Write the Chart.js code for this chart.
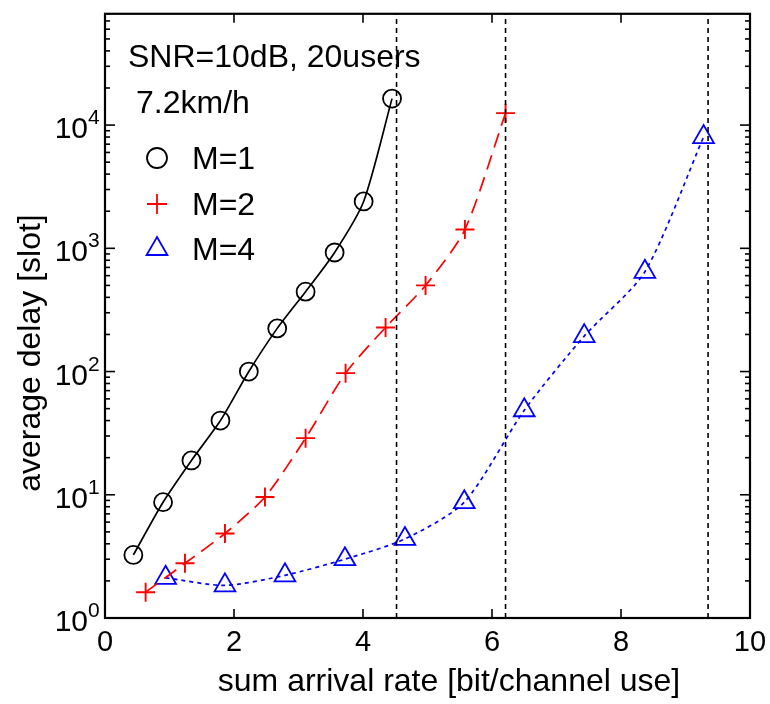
<!DOCTYPE html>
<html>
<head>
<meta charset="utf-8">
<script src="https://cdn.jsdelivr.net/npm/chart.js@4.4.1/dist/chart.umd.min.js"></script>
<style>
  html, body { margin: 0; padding: 0; background: #fff; }
  #wrap { width: 770px; height: 704px; }
</style>
</head>
<body>
<div id="wrap"><canvas id="c" width="770" height="704"></canvas></div>
<script>
// ---- data ----
const m1Rate  = [0.44, 0.90, 1.34, 1.79, 2.23, 2.67, 3.11, 3.56, 4.01, 4.45];
const m1Delay = [3.25, 8.7, 19, 40, 100, 224, 445, 925, 2400, 16400];

const m2Rate  = [0.63, 1.24, 1.86, 2.48, 3.11, 3.73, 4.35, 4.97, 5.58, 6.21];
const m2Delay = [1.62, 2.78, 4.85, 9.6, 28.8, 97, 228, 500, 1420, 12500];

const m4Rate  = [0.94, 1.86, 2.79, 3.72, 4.65, 5.57, 6.50, 7.43, 8.37, 9.28];
const m4Delay = [2.12, 1.84, 2.22, 3.0, 4.38, 8.7, 48.5, 194, 645, 8000];

const capacityRates = [4.52, 6.21, 9.35];

const xTicks = [0, 2, 4, 6, 8, 10];
const yDecades = [0, 1, 2, 3, 4];
const xMin = 0, xMax = 10, yMin = 1, yMax = 80000;

const seriesNames = ['M=1', 'M=2', 'M=4'];
const annotationLines = ['SNR=10dB, 20users', '7.2km/h'];
const xTitle = 'sum arrival rate [bit/channel use]';
const yTitle = 'average delay [slot]';

const FONT = '"Liberation Sans", Arial, Helvetica, sans-serif';

function pts(xs, ys) { return xs.map((x, i) => ({ x: x, y: ys[i] })); }

const datasets = [];
capacityRates.forEach(c => {
  datasets.push({
    data: [{ x: c, y: yMin }, { x: c, y: yMax }],
    borderColor: '#000', borderWidth: 1.6, borderDash: [5, 4],
    pointRadius: 0, showLine: true, fill: false
  });
});
datasets.push({
  label: seriesNames[0], data: pts(m1Rate, m1Delay),
  borderColor: '#000', borderWidth: 1.7, showLine: true, tension: 0.25,
  pointStyle: 'circle', pointRadius: 9, pointBorderWidth: 1.8,
  pointBorderColor: '#000', pointBackgroundColor: 'rgba(0,0,0,0)'
});
datasets.push({
  label: seriesNames[1], data: pts(m2Rate, m2Delay),
  borderColor: '#ff0000', borderWidth: 1.7, borderDash: [15, 8], showLine: true, tension: 0.25,
  pointStyle: 'cross', pointRadius: 9.5, pointBorderWidth: 1.9,
  pointBorderColor: '#ff0000', pointBackgroundColor: 'rgba(0,0,0,0)'
});
datasets.push({
  label: seriesNames[2], data: pts(m4Rate, m4Delay),
  borderColor: '#0000ff', borderWidth: 1.7, borderDash: [4, 4], showLine: true, tension: 0.25,
  pointStyle: 'triangle', pointRadius: 12, pointBorderWidth: 1.8,
  pointBorderColor: '#0000ff', pointBackgroundColor: 'rgba(0,0,0,0)'
});

function line(ctx, x1, y1, x2, y2) {
  ctx.beginPath(); ctx.moveTo(x1, y1); ctx.lineTo(x2, y2); ctx.stroke();
}

const decorPlugin = {
  id: 'decor',
  afterDraw(chart) {
    const ctx = chart.ctx, a = chart.chartArea;
    const xs = chart.scales.x, ys = chart.scales.y;
    ctx.save();
    ctx.setLineDash([]);
    ctx.strokeStyle = '#000';
    ctx.lineWidth = 2.2;
    ctx.strokeRect(a.left, a.top, a.right - a.left, a.bottom - a.top);

    // x ticks (inward, bottom & top)
    ctx.lineWidth = 1.6;
    xTicks.forEach(v => {
      const px = xs.getPixelForValue(v);
      line(ctx, px, a.bottom, px, a.bottom - 9);
      line(ctx, px, a.top, px, a.top + 9);
    });
    // y ticks (major + minor, left & right)
    yDecades.forEach(d => {
      for (let m = 1; m <= 9; m++) {
        const v = m * Math.pow(10, d);
        if (v > yMax) break;
        const py = ys.getPixelForValue(v);
        const L = m === 1 ? 10 : 5;
        line(ctx, a.left, py, a.left + L, py);
        line(ctx, a.right, py, a.right - L, py);
      }
    });

    ctx.fillStyle = '#000';
    // x tick labels
    ctx.font = '29px ' + FONT;
    ctx.textAlign = 'center';
    ctx.textBaseline = 'alphabetic';
    xTicks.forEach(v => {
      ctx.fillText(String(v), xs.getPixelForValue(v), a.bottom + 33);
    });
    // y tick labels 10^k
    yDecades.forEach(d => {
      const py = ys.getPixelForValue(Math.pow(10, d));
      ctx.font = '30px ' + FONT;
      ctx.textAlign = 'right';
      ctx.fillText('10', a.left - 17, py + 13);
      ctx.font = '21px ' + FONT;
      ctx.textAlign = 'left';
      ctx.fillText(String(d), a.left - 17, py - 1);
    });

    // axis titles
    ctx.font = '32px ' + FONT;
    ctx.textAlign = 'center';
    ctx.fillText(xTitle, 449, 691);
    ctx.save();
    ctx.translate(40, 353);
    ctx.rotate(-Math.PI / 2);
    ctx.fillText(yTitle, 0, 0);
    ctx.restore();

    // annotation text
    ctx.textAlign = 'left';
    ctx.fillText(annotationLines[0], 128, 67);
    ctx.fillText(annotationLines[1], 136, 113);

    // legend
    const lds = chart.data.datasets.slice(capacityRates.length);
    const ly = [158, 204, 249];
    lds.forEach((ds, i) => {
      const opts = {
        pointStyle: ds.pointStyle, radius: ds.pointStyle === 'triangle' ? 12 : 10,
        rotation: 0, borderWidth: 1.8
      };
      ctx.strokeStyle = ds.borderColor;
      ctx.fillStyle = 'rgba(0,0,0,0)';
      ctx.lineWidth = 1.8;
      ctx.setLineDash([]);
      Chart.helpers.drawPoint(ctx, opts, 157, ly[i]);
      ctx.fillStyle = '#000';
      ctx.font = '32px ' + FONT;
      ctx.fillText(ds.label, 192, ly[i] + 11);
    });
    ctx.restore();
  }
};

new Chart(document.getElementById('c'), {
  type: 'scatter',
  data: { datasets: datasets },
  options: {
    responsive: false,
    animation: false,
    devicePixelRatio: 1,
    layout: { padding: { left: 105, right: 20, top: 12, bottom: 86 } },
    plugins: { legend: { display: false }, tooltip: { enabled: false } },
    scales: {
      x: { type: 'linear', min: xMin, max: xMax, display: false },
      y: { type: 'logarithmic', min: yMin, max: yMax, display: false }
    }
  },
  plugins: [decorPlugin]
});
</script>
</body>
</html>
